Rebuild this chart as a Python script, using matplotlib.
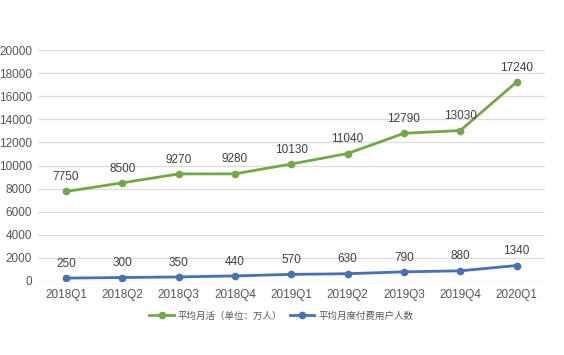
import matplotlib.pyplot as plt

plt.rcParams['font.family'] = ['Liberation Sans', 'Noto Sans CJK SC', 'DejaVu Sans']

quarters = ['2018Q1', '2018Q2', '2018Q3', '2018Q4', '2019Q1',
            '2019Q2', '2019Q3', '2019Q4', '2020Q1']
mau = [7750, 8500, 9270, 9280, 10130, 11040, 12790, 13030, 17240]
paying = [250, 300, 350, 440, 570, 630, 790, 880, 1340]
yticks = [0, 2000, 4000, 6000, 8000, 10000, 12000, 14000, 16000, 18000, 20000]

green = '#72A845'
blue = '#4670B8'
txt = '#555555'

fig = plt.figure(figsize=(5.64, 3.55), dpi=100)
ax = fig.add_axes([0.067, 0.2085, 0.899, 0.6505])

x = range(len(quarters))
ax.plot(x, mau, color=green, lw=2.0, marker='o', ms=4.5, label='平均月活（单位：万人）')
ax.plot(x, paying, color=blue, lw=2.0, marker='o', ms=4.5, label='平均月度付费用户人数')

for xi, v in zip(x, mau):
    ax.annotate(str(v), (xi, v), xytext=(0, 6), textcoords='offset points',
                ha='center', va='bottom', fontsize=8.5, color='#404040')
for xi, v in zip(x, paying):
    ax.annotate(str(v), (xi, v), xytext=(0, 6), textcoords='offset points',
                ha='center', va='bottom', fontsize=8.5, color='#404040')

ax.set_xlim(-0.5, len(quarters) - 0.5)
ax.set_ylim(0, 20000)
ax.set_yticks(yticks)
ax.set_xticks(list(x))
ax.set_xticklabels(quarters)
ax.tick_params(length=0, labelsize=8.5, colors=txt, pad=6)
ax.tick_params(axis='y', pad=4)
ax.grid(axis='y', color='#dcdcdc', lw=0.9)
ax.set_axisbelow(True)
for s in ax.spines.values():
    s.set_visible(False)

ax.legend(loc='upper center', bbox_to_anchor=(0.48, -0.095), ncol=2, frameon=False,
          fontsize=6.8, labelcolor=txt, handlelength=2.6, handletextpad=0.4,
          columnspacing=0.8)

fig.savefig('out.png', dpi=100)
